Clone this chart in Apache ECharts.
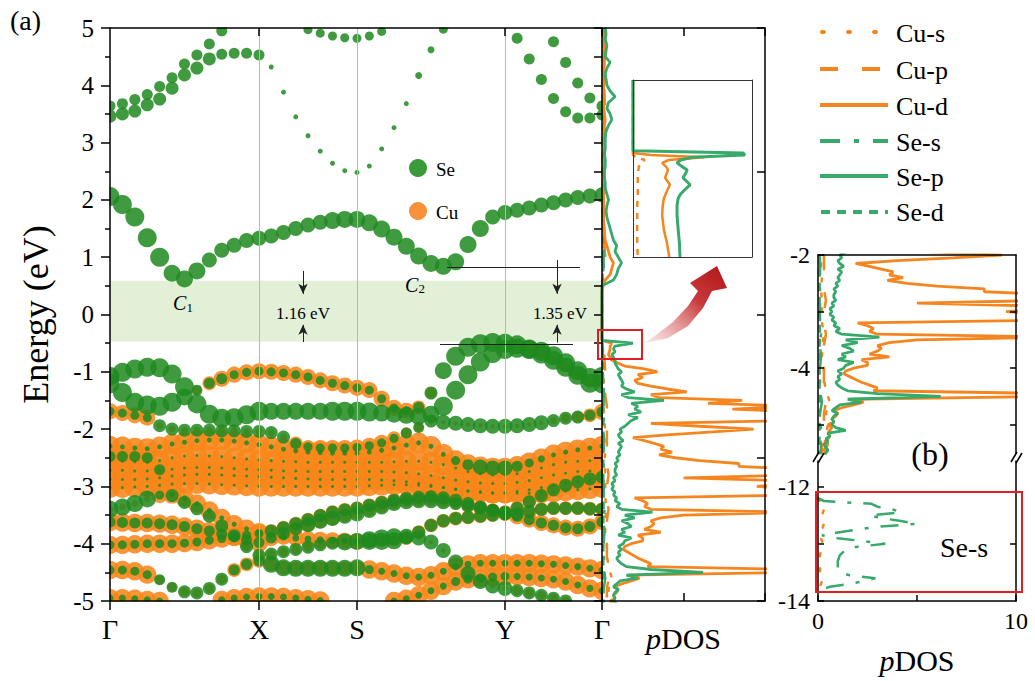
<!DOCTYPE html>
<html>
<head>
<meta charset="utf-8">
<title>Band structure and pDOS</title>
<script src="https://cdn.jsdelivr.net/npm/echarts@6/dist/echarts.min.js"></script>
<style>
html,body{margin:0;padding:0;background:#fff;}
#main{width:1035px;height:681px;}
</style>
</head>
<body>
<div id="main"></div>
<script>
// k path: node positions (path length units) and names
var kNodes = [0, 1.49, 2.47, 3.95, 4.92];
var kNames = ['Γ', 'X', 'S', 'Y', 'Γ'];
var kSteps = [12, 8, 12, 8]; // samples per segment -> 41 k points

// band energies (eV) at the 41 k points: Γ-X | X-S | S-Y | Y-Γ
var cb1 = [2.06,1.92,1.70,1.34,1.00,0.72,0.62,0.76,0.95,1.12,1.21,1.29,1.33, 1.37,1.43,1.50,1.56,1.61,1.64,1.66,1.66, 1.60,1.49,1.35,1.19,1.02,0.89,0.84,0.92,1.22,1.50,1.70,1.78, 1.82,1.86,1.91,1.95,2.00,2.04,2.07,2.09];
var cb2a = [3.64,3.68,3.75,3.84,3.98,4.13,4.37,4.53,4.72,4.95,null,null,null, null,null,5.02,4.97,4.91,4.86,4.83,4.82, 4.86,4.94,5.05,null,null,null,null,null,null,null,null,null, null,null,null,4.76,4.40,4.04,3.78,3.64];
var cb2b = [3.46,3.50,3.55,3.66,3.76,3.95,4.18,4.30,4.46,4.54,4.56,4.56,4.53, 4.32,3.88,3.45,3.12,2.85,2.64,2.51,2.48, 2.59,2.89,3.26,3.68,4.17,4.62,4.98,null,null,null,null,null, 4.82,4.46,4.10,3.77,3.54,3.43,3.43,3.48];
var v1 = [-1.08,-1.01,-0.95,-0.92,-0.93,-1.04,-1.26,-1.56,-1.74,-1.81,-1.80,-1.75,-1.69, -1.69,-1.69,-1.69,-1.69,-1.69,-1.69,-1.69,-1.69, -1.70,-1.72,-1.74,-1.76,-1.78,-1.74,-1.60,-1.32,-1.05,-0.83,-0.68,-0.61, -0.59,-0.60,-0.64,-0.72,-0.84,-0.98,-1.10,-1.08];
var v2 = [-1.21,-1.36,-1.53,-1.58,-1.60,-1.53,-1.44,-1.32,-1.20,-1.12,-1.05,-1.01,-0.99, -1.00,-1.02,-1.05,-1.09,-1.15,-1.20,-1.24,-1.28, -1.32,-1.47,-1.63,-1.68,-1.62,-1.37,-0.98,-0.73,-0.57,-0.51,-0.49,-0.50, -0.53,-0.61,-0.69,-0.80,-0.92,-1.06,-1.20,-1.21];
var v3 = [-1.69,-1.72,-1.76,-1.80,-1.94,-2.00,-2.02,-2.02,-2.02,-2.03,-2.03,-2.04,-2.04, -2.06,-2.14,-2.25,-2.31,-2.33,-2.33,-2.33,-2.32, -2.29,-2.24,-2.16,-2.07,-1.97,-1.86,-1.88,-1.90,-1.92,-1.94,-1.95,-1.95, -1.94,-1.92,-1.89,-1.85,-1.81,-1.79,-1.76,-1.70];
var v4 = [-2.30,-2.31,-2.33,-2.34,-2.31,-2.26,-2.23,-2.20,-2.19,-2.19,-2.21,-2.24,-2.27, -2.31,-2.35,-2.38,-2.40,-2.41,-2.42,-2.42,-2.42, -2.40,-2.37,-2.33,-2.28,-2.24,-2.30,-2.44,-2.55,-2.62,-2.66,-2.68,-2.68, -2.65,-2.59,-2.52,-2.45,-2.40,-2.36,-2.33,-2.30];
var v5 = [-2.48,-2.48,-2.48,-2.50,-2.71,-3.16,-3.28,-3.39,-3.52,-3.69,-3.86,-4.05,-4.20, -4.18,-4.14,-4.10,-4.06,-4.02,-3.99,-3.97,-3.96, -3.93,-3.90,-3.88,-3.87,-3.90,-3.97,-4.12,-4.32,-4.52,-4.66,-4.74,-4.78, -4.82,-4.86,-4.90,-4.95,-5.00,-5.05,-5.08,-5.10];
var v6 = [-4.46,-4.46,-4.48,-4.54,-4.63,-4.76,-4.84,-4.86,-4.78,-4.62,-4.46,-4.36,-4.30, -4.36,-4.42,-4.43,-4.43,-4.43,-4.43,-4.43,-4.42, -4.45,-4.48,-4.52,-4.56,-4.58,-4.55,-4.48,-4.40,-4.36,-4.34,-4.34,-4.34, -4.34,-4.34,-4.35,-4.36,-4.38,-4.40,-4.43,-4.46];
var v7 = [-3.62,-3.63,-3.64,-3.64,-3.65,-3.67,-3.70,-3.74,-3.78,-3.83,-3.88,-3.93,-3.98, -3.90,-3.82,-3.74,-3.67,-3.61,-3.56,-3.52,-3.48, -3.42,-3.36,-3.30,-3.27,-3.25,-3.25,-3.27,-3.30,-3.34,-3.38,-3.42,-3.45, -3.52,-3.58,-3.64,-3.68,-3.72,-3.74,-3.70,-3.62];
var v8 = [-4.02,-4.02,-4.01,-4.00,-4.00,-4.00,-3.99,-3.97,-3.94,-3.91,-3.88,-3.85,-3.82, -3.78,-3.72,-3.65,-3.58,-3.51,-3.45,-3.41,-3.38, -3.33,-3.28,-3.24,-3.21,-3.19,-3.18,-3.20,-3.24,-3.30,-3.36,-3.42,-3.47, -3.38,-3.27,-3.16,-3.06,-2.98,-2.92,-2.87,-2.84];
var v9 = [-3.40,-3.36,-3.30,-3.22,-3.15,-3.14,-3.20,-3.30,-3.42,-3.55,-3.66,-3.74,-3.80, -3.85,-3.88,-3.90,-3.92,-3.93,-3.94,-3.95,-3.96, -3.96,-3.96,-3.95,-3.90,-3.80,-3.68,-3.60,-3.56,-3.54,-3.52,-3.50,-3.48, -3.48,-3.44,-3.40,-3.38,-3.38,-3.38,-3.39,-3.40];
var v10 = [-4.95,-4.95,-4.96,-4.98,-5.00,-5.02,-5.05,-5.05,-5.02,-4.98,-4.95,-4.93,-4.92, -4.92,-4.93,-4.95,-4.97,-4.99,-5.01,-5.03,-5.05, -5.05,-5.03,-5.00,-4.96,-4.90,-4.82,-4.74,-4.66,-4.62,-4.60,-4.58,-4.57, -4.57,-4.58,-4.60,-4.62,-4.66,-4.72,-4.78,-4.82];
var b1 = [-2.55,-2.56,-2.57,-2.58,-2.55,-2.50,-2.47,-2.46,-2.47,-2.48,-2.50,-2.52,-2.54, -2.55,-2.56,-2.57,-2.58,-2.58,-2.58,-2.58,-2.58, -2.58,-2.58,-2.57,-2.56,-2.56,-2.58,-2.62,-2.68,-2.74,-2.78,-2.80,-2.80, -2.78,-2.74,-2.68,-2.62,-2.58,-2.56,-2.55,-2.55];
var b2 = [-2.72,-2.72,-2.73,-2.73,-2.72,-2.70,-2.68,-2.67,-2.67,-2.68,-2.69,-2.70,-2.71, -2.72,-2.73,-2.73,-2.74,-2.74,-2.74,-2.74,-2.74, -2.74,-2.74,-2.75,-2.76,-2.78,-2.81,-2.85,-2.89,-2.92,-2.94,-2.95,-2.95, -2.93,-2.90,-2.85,-2.80,-2.77,-2.74,-2.73,-2.72];
var b3 = [-2.88,-2.88,-2.88,-2.87,-2.85,-2.82,-2.80,-2.79,-2.79,-2.80,-2.81,-2.82,-2.83, -2.84,-2.85,-2.86,-2.87,-2.88,-2.88,-2.88,-2.88, -2.88,-2.89,-2.90,-2.92,-2.95,-2.98,-3.02,-3.05,-3.08,-3.10,-3.11,-3.11, -3.09,-3.06,-3.02,-2.98,-2.94,-2.91,-2.89,-2.88];
var b4 = [-3.02,-3.02,-3.01,-3.00,-2.98,-2.96,-2.95,-2.95,-2.96,-2.97,-2.98,-2.99,-3.00, -3.00,-3.00,-3.00,-3.00,-3.00,-3.00,-3.00,-3.00, -2.99,-2.98,-2.97,-2.97,-2.98,-3.00,-3.02,-3.05,-3.08,-3.10,-3.12,-3.12, -3.12,-3.12,-3.11,-3.10,-3.08,-3.06,-3.04,-3.02];

// projected weights (0-9) per k point, Se and Cu
var seCb1 = '9999988877777 77777888 888888888877 77777777';
var seCb2a = '5555555555555 44444444 444444444444 55555555';
var seCb2b = '6666666665555 22222222 222233445555 55555555';
var seV1 = '9999999999999 88888999 988888999999 99999999';
var seV2 = '9999998555444 44444444 444456899999 99999999';
var cuV2 = '0000000467777 77777777 777765000000 33444444';
var seV3 = '4444666666666 66544444 444556777777 77766655';
var cuV3 = '7777333333333 33667777 776543222222 22234567';
var seV4 = '2222222222222 22222222 222222245777 54322222';
var cuV4 = '9999999999999 99999999 999999999999 99999999';
var seV5 = '5555566666666 66666688 888777777777 66666666';
var cuV5 = '8888333333444 44444444 222222222222 44444444';
var seV6 = '4444556666555 88888888 433333333333 33333333';
var cuV6 = '8888444444666 66666666 888888888888 88888888';
var seV7 = '5555555555555 56677777 777777766666 55555555';
var cuV7 = '8888888888888 77666655 555555556666 77777777';
var seV8 = '4444444444444 66666666 666666666666 66666666';
var cuV8 = '8888888888888 66666666 666666666666 66666666';
var seV9 = '8888422222222 33333333 888666666666 66666666';
var cuV9 = '3333788888888 77777777 555666666666 66666666';
var seV10 = '3333333333333 33333333 333333344444 33333333';
var cuV10 = '8888888888888 88888888 888888888888 88888888';
var seBlob = '1111111111111 11111111 111111111111 11111111';
var cuBlob = '9999999999999 99999999 999999999999 99999999';

// pDOS, valence part: from -5.6 eV in 0.05 eV steps up to -0.4 eV
var valStart = -5.6, valStep = 0.05;
var cuDv = [0.3,0.3,0.4,0.3,0.4,0.5,0.4,0.5,0.6,0.5,
    0.6,0.7,0.5,0.8,0.7,0.9,1.0,0.8,1.2,1.8,
    2.3,1.6,12,12,2.8,3.0,2.6,2.2,1.9,1.6,
    1.3,1.4,1.8,2.5,2.5,2.2,3.6,2.6,3.0,3.2,
    3.0,3.6,5.0,12,3.0,2.6,2.8,2.5,2.0,12,
    11,12,9.5,12,11,5.0,12,11,12,8.4,
    8.4,6.0,4.5,3.5,4.3,3.6,3.8,3.2,2.6,1.9,
    4.0,6.8,9.3,6.0,3.0,12,11,12,12,8.0,
    12,6.5,8.6,3.5,3.0,5.2,4.0,3.0,2.2,2.0,
    2.5,2.2,3.4,2.6,1.4,1.0,0.6,0.5,0.4,0.45,
    0.5,0.5,0.6,0,0];
var sePv = [0.4,0.3,0.4,0.5,0.4,0.3,0.5,0.4,0.6,0.5,
    1.4,0.9,0.7,0.8,0.7,0.8,1.0,0.7,0.9,1.1,
    2.2,1.5,6.2,3.0,1.5,1.2,1.0,0.9,1.1,1.0,
    1.2,1.0,1.3,1.4,1.8,1.0,1.4,1.2,1.8,1.6,
    1.2,2.0,1.4,3.1,1.2,0.9,1.1,0.8,0.9,0.7,
    0.8,0.6,0.7,0.6,0.8,0.7,0.9,0.8,0.8,0.9,
    0.8,1.0,0.9,1.1,1.0,1.1,1.2,1.0,1.3,1.1,
    1.0,1.2,1.1,1.4,1.6,1.8,2.2,1.6,2.4,2.0,
    2.2,1.8,3.8,1.6,1.2,2.0,1.5,1.2,1.3,1.2,
    1.1,1.0,1.2,1.0,0.9,0.8,0.8,0.7,0.6,0.8,
    0.7,0.8,1.9,0,0];
// pDOS, gap and conduction part: from -0.4 eV in 0.1 eV steps
var conStart = -0.4, conStep = 0.1;
var cuDc = [0,0,0,0,0,0,0,0,0,0,
    0.2,0.5,0.6,0.7,0.5,0.4,0.3,0.2,0.15,0.15,
    0.1,0.1,0.1,0.1,0.1,0.1,0.1,0.1,0.1,0.1,
    0.1,0.1,0.1,0.1,0.1,0.1,0.1,0.15,0.2,0.15,
    0.1,0.1,0.15,0.1,0.1,0.1,0.1,0.1,0.1,0.1,
    0.1,0.15,0.1,0.1,0.1];
var sePc = [0,0,0,0,0,0,0,0,0,0,
    0.7,0.9,1.0,1.2,1.0,0.8,0.9,0.7,0.6,0.5,
    0.4,0.3,0.25,0.3,0.4,0.3,0.2,0.2,0.15,0.15,
    0.2,0.2,0.15,0.2,0.2,0.2,0.25,0.4,0.6,0.5,
    0.3,0.4,0.8,0.5,0.3,0.25,0.2,0.3,0.5,0.2,
    0.25,0.3,0.2,0.25,0.2];
// minor orbitals, from -5.6 eV in 0.2 eV steps
var minorStep = 0.2;
var cuS = [0.2,0.3,0.4,0.5,0.4,0.6,0.4,0.3,0.3,0.2, 0.2,0.3,0.2,0.2,0.2,0.15,0.2,0.15,0.2,0.1, 0.1,0.1,0.1,0.1,0.05,0.05,0,0,0,0, 0,0.05,0.05,0.05,0.05,0.05,0.05,0.05,0.05,0.05, 0.05,0.05,0.05,0.05,0.1,0.1,0.05,0.05,0.05,0.05, 0.05,0.1,0.05,0.05];
var cuP = [0.2,0.2,0.3,0.3,0.3,0.4,0.3,0.3,0.3,0.4, 0.3,0.4,0.3,0.3,0.4,0.3,0.3,0.3,0.3,0.3, 0.3,0.2,0.2,0.2,0.15,0.15,0,0,0,0, 0,0.15,0.2,0.2,0.15,0.15,0.1,0.1,0.1,0.1, 0.1,0.1,0.1,0.15,0.25,0.3,0.2,0.15,0.15,0.15, 0.15,0.25,0.2,0.15];
var seS = [0.1,0.15,0.1,0.15,0.1,0.2,0.1,0.1,0.1,0.15, 0.1,0.15,0.1,0.1,0.1,0.1,0.1,0.1,0.1,0.1, 0.1,0.1,0.1,0.05,0.05,0.05,0,0,0,0, 0,0.05,0.1,0.1,0.1,0.1,0.05,0.05,0.1,0.05, 0.05,0.05,0.05,0.05,0.05,0.15,0.1,0.1,0.05,0.05, 0.05,0.05,0.05,0.05];
var seD = [0.05,0.05,0.08,0.08,0.1,0.1,0.08,0.08,0.08,0.1, 0.08,0.1,0.08,0.08,0.08,0.08,0.08,0.1,0.08,0.08, 0.08,0.08,0.08,0.05,0.05,0.05,0,0,0,0, 0,0.05,0.08,0.08,0.08,0.05,0.05,0.05,0.05,0.05, 0.05,0.05,0.05,0.05,0.05,0.08,0.05,0.05,0.08,0.05, 0.05,0.05,0.05,0.05];

// deep Se-s states for panel (b)
var lowE = [-12.20,-12.25,-12.30,-12.35,-12.40,-12.45,-12.50,-12.55,-12.60,-12.65,-12.70,-12.75,-12.80,-12.85,-12.90,-12.95,-13.00,-13.05,-13.10,-13.20,-13.30,-13.40,-13.50,-13.55,-13.60,-13.65,-13.70,-13.75,-13.80,-13.85];
var seSLow = [0,0.3,2.7,3.0,3.8,4.2,2.6,3.2,4.2,5.0,3.0,2.0,1.0,0.2,1.0,2.2,3.4,2.0,1.4,1.1,1.0,1.0,1.1,1.6,2.9,2.4,1.6,0.6,0.2,0];
var cuSLow = [0,0.1,0.25,0.2,0.3,0.25,0.2,0.25,0.3,0.3,0.25,0.2,0.15,0.1,0.15,0.2,0.25,0.2,0.15,0.1,0.1,0.1,0.1,0.15,0.25,0.2,0.15,0.1,0.05,0];

// inset: zoom on the valence band top
var insetE = [-0.400,-0.500,-0.503,-0.506,-0.509,-0.513,-0.517,-0.522,-0.527,-0.533,-0.538,-0.543,-0.548,-0.555,-0.561,-0.567,-0.577,-0.591,-0.612,-0.630,-0.650];
var insSeP = [0,0,1.85,1.88,1.0,0.80,0.74,0.82,0.91,0.88,0.84,0.90,0.96,0.87,0.80,0.76,0.74,0.74,0.76,0.78,0.79];
var insCuD = [0,0,0,0.3,1.2,0.6,0.49,0.55,0.59,0.56,0.54,0.58,0.62,0.58,0.55,0.52,0.50,0.49,0.52,0.57,0.61];
var insCuP = [0,0,0,0,0.05,0.2,0.12,0.10,0.09,0.09,0.08,0.08,0.08,0.08,0.08,0.08,0.07,0.07,0.07,0.07,0.08];

// gap shading and gap annotations (eV)
var gapTop = 0.59, gapBottom = -0.47;
var c2Level = 0.83, vbmLevel = -0.52;

var serif = "'Times New Roman','Liberation Serif',serif";
var bandGreen = '#1f8a1f', bandOrange = '#f8861a';
var dosGreen = '#36a96b', dosOrange = '#f5861f';

function weights(s){
    return s.replace(/\s/g, '').split('').map(Number);
}

// k grid
var kGrid = [];
for (var s = 0; s < kSteps.length; s++) {
    for (var j = (s === 0 ? 0 : 1); j <= kSteps[s]; j++) {
        kGrid.push(kNodes[s] + (kNodes[s + 1] - kNodes[s]) * j / kSteps[s]);
    }
}

var bandSet = [
    [cb1, seCb1, null], [cb2a, seCb2a, null], [cb2b, seCb2b, null],
    [v1, seV1, null], [v2, seV2, cuV2], [v3, seV3, cuV3], [v4, seV4, cuV4],
    [b1, seBlob, cuBlob], [b2, seBlob, cuBlob], [b3, seBlob, cuBlob], [b4, seBlob, cuBlob],
    [v5, seV5, cuV5], [v6, seV6, cuV6], [v7, seV7, cuV7], [v8, seV8, cuV8],
    [v9, seV9, cuV9], [v10, seV10, cuV10]
];

var sePts = [], cuPts = [];
bandSet.forEach(function(b){
    var se = weights(b[1]);
    var cu = b[2] ? weights(b[2]) : null;
    for (var i = 0; i < kGrid.length; i++) {
        if (b[0][i] == null) continue;
        if (cu && cu[i] > 0) cuPts.push([kGrid[i], b[0][i], cu[i]]);
        if (se[i] > 0) sePts.push([kGrid[i], b[0][i], se[i]]);
    }
});

function gridE(start, step, n){
    var arr = [];
    for (var i = 0; i < n; i++) arr.push(+(start + step * i).toFixed(3));
    return arr;
}
function pairs(eArr, vArr){
    return vArr.map(function(v, i){ return [v, eArr[i]]; });
}
var valE = gridE(valStart, valStep, cuDv.length);
var conE = gridE(conStart, conStep, cuDc.length);
var minorE = gridE(valStart, minorStep, cuS.length);
var cuDPairs = pairs(valE, cuDv).concat(pairs(conE, cuDc));
var sePPairs = pairs(valE, sePv).concat(pairs(conE, sePc));

function dosLine(xi, yi, data, color, type, width, cap){
    return {
        type: 'line', xAxisIndex: xi, yAxisIndex: yi, silent: true,
        data: data, symbol: 'none', z: 6,
        lineStyle: {color: color, width: width || 2.5, type: type || 'solid', cap: cap || 'butt'}
    };
}
var dotT = [3, 12], dashT = [16, 22], dashDotT = [18, 12, 4, 12], shortDashT = [8, 6];

function dosSet(xi, yi){
    return [
        dosLine(xi, yi, pairs(minorE, cuS), dosOrange, dotT, 2.5, 'round'),
        dosLine(xi, yi, pairs(minorE, cuP), dosOrange, dashT),
        dosLine(xi, yi, pairs(minorE, seS), dosGreen, dashDotT),
        dosLine(xi, yi, pairs(minorE, seD), dosGreen, shortDashT),
        dosLine(xi, yi, cuDPairs, dosOrange, 'solid', 2.8),
        dosLine(xi, yi, sePPairs, dosGreen, 'solid', 2.8)
    ];
}

var axisLineStyle = {color: '#000', width: 1.5};
function plainAxis(extra){
    var a = {
        type: 'value', z: 7,
        axisLine: {show: true, onZero: false, lineStyle: axisLineStyle},
        axisTick: {show: false},
        axisLabel: {show: false},
        splitLine: {show: false}
    };
    for (var key in extra) a[key] = extra[key];
    return a;
}
var tickStyle = {color: '#000', width: 1.5};
var pdosName = {fontSize: 30, fontFamily: serif, color: '#000',
    rich: {i: {fontStyle: 'italic', fontSize: 30, fontFamily: serif, color: '#000'}}};
var subRich = {c: {fontStyle: 'italic', fontSize: 20, fontFamily: serif, color: '#000'},
    s: {fontSize: 13, fontFamily: serif, color: '#000', verticalAlign: 'bottom', padding: [8, 0, 0, 0]}};

// white masks so the fat-band dots stop at the band panel frame
function mask(x, y, w, h){
    return {type: 'rect', z: 4, silent: true, shape: {x: x, y: y, width: w, height: h}, style: {fill: '#fff'}};
}

var option = {
    animation: false,
    backgroundColor: '#fff',
    grid: [
        {left: 110, top: 28, width: 492, height: 573},
        {left: 602, top: 28, width: 163, height: 573},
        {left: 633, top: 80, width: 119, height: 177},
        {left: 818, top: 255, width: 198, height: 198},
        {left: 818, top: 461, width: 198, height: 140}
    ],
    xAxis: [
        plainAxis({gridIndex: 0, min: 0, max: kNodes[4], position: 'bottom',
            axisTick: {show: true, length: 9, customValues: kNodes, lineStyle: tickStyle},
            axisLabel: {show: true, customValues: kNodes, margin: 14, color: '#000',
                fontSize: 28, fontFamily: serif, showMinLabel: true, showMaxLabel: true,
                formatter: function(v){
                    for (var i = 0; i < kNodes.length; i++) if (Math.abs(v - kNodes[i]) < 1e-6) return kNames[i];
                    return '';
                }}}),
        plainAxis({gridIndex: 0, min: 0, max: kNodes[4], position: 'top',
            axisTick: {show: true, inside: true, length: 8, customValues: [kNodes[1], kNodes[3]], lineStyle: tickStyle}}),
        plainAxis({gridIndex: 1, min: 0, max: 10, interval: 5, position: 'bottom',
            axisTick: {show: true, inside: true, length: 8, lineStyle: tickStyle},
            name: '{i|p}DOS', nameLocation: 'middle', nameGap: 22, nameTextStyle: pdosName}),
        plainAxis({gridIndex: 1, min: 0, max: 10, interval: 5, position: 'top',
            axisTick: {show: true, inside: true, length: 8, lineStyle: tickStyle}}),
        plainAxis({gridIndex: 2, min: 0, max: 2, position: 'bottom', axisLine: {show: true, onZero: false, lineStyle: {color: '#333', width: 1}}}),
        plainAxis({gridIndex: 2, min: 0, max: 2, position: 'top', axisLine: {show: true, onZero: false, lineStyle: {color: '#333', width: 1}}}),
        plainAxis({gridIndex: 3, min: 0, max: 10, position: 'top'}),
        plainAxis({gridIndex: 4, min: 0, max: 10, position: 'bottom',
            axisTick: {show: true, inside: true, length: 6, customValues: [0, 5, 10], lineStyle: tickStyle},
            axisLabel: {show: true, customValues: [0, 10], margin: 8, color: '#000', fontSize: 24, fontFamily: serif},
            name: '{i|p}DOS', nameLocation: 'middle', nameGap: 44, nameTextStyle: pdosName})
    ],
    yAxis: [
        plainAxis({gridIndex: 0, min: -5, max: 5, interval: 1, position: 'left',
            axisTick: {show: true, length: 9, lineStyle: tickStyle},
            minorTick: {show: true, splitNumber: 2, length: 5, lineStyle: tickStyle},
            axisLabel: {show: true, margin: 16, color: '#000', fontSize: 25, fontFamily: serif},
            name: 'Energy (eV)', nameLocation: 'middle', nameRotate: 90, nameGap: 56,
            nameTextStyle: {fontSize: 36, fontFamily: serif, color: '#000'}}),
        plainAxis({gridIndex: 0, min: -5, max: 5, interval: 0.5, position: 'right',
            axisTick: {show: true, inside: true, length: 8, lineStyle: tickStyle}}),
        plainAxis({gridIndex: 1, min: -5, max: 5, position: 'left', axisLine: {show: false}}),
        plainAxis({gridIndex: 1, min: -5, max: 5, interval: 2.5, position: 'right',
            axisTick: {show: true, inside: true, length: 8, lineStyle: tickStyle}}),
        plainAxis({gridIndex: 2, min: -0.65, max: -0.40, position: 'left', axisLine: {show: true, onZero: false, lineStyle: {color: '#333', width: 1}}}),
        plainAxis({gridIndex: 2, min: -0.65, max: -0.40, position: 'right', axisLine: {show: true, onZero: false, lineStyle: {color: '#333', width: 1}}}),
        plainAxis({gridIndex: 3, min: -5.5, max: -2, position: 'left',
            axisTick: {show: true, inside: true, length: 6, customValues: [-5, -4, -3, -2], lineStyle: tickStyle},
            axisLabel: {show: true, customValues: [-4, -2], margin: 8, color: '#000', fontSize: 24, fontFamily: serif}}),
        plainAxis({gridIndex: 3, min: -5.5, max: -2, position: 'right',
            axisTick: {show: true, inside: true, length: 6, customValues: [-5, -4, -3], lineStyle: tickStyle}}),
        plainAxis({gridIndex: 4, min: -14, max: -11.55, position: 'left',
            axisTick: {show: true, inside: true, length: 6, customValues: [-14, -13, -12], lineStyle: tickStyle},
            axisLabel: {show: true, customValues: [-14, -12], margin: 8, color: '#000', fontSize: 24, fontFamily: serif}}),
        plainAxis({gridIndex: 4, min: -14, max: -11.55, position: 'right',
            axisTick: {show: true, inside: true, length: 6, customValues: [-13], lineStyle: tickStyle}})
    ],
    series: [
        // gap shade and high-symmetry lines
        {type: 'line', xAxisIndex: 0, yAxisIndex: 0, data: [[0, -10]], symbol: 'none', silent: true, z: 1,
            lineStyle: {opacity: 0},
            markArea: {silent: true, itemStyle: {color: '#e2f0d8'},
                data: [[{xAxis: 0, yAxis: gapBottom}, {xAxis: kNodes[4], yAxis: gapTop}]]},
            markLine: {silent: true, symbol: 'none', label: {show: false},
                lineStyle: {color: '#b8b8b8', width: 1, type: 'solid'},
                data: [{xAxis: kNodes[1]}, {xAxis: kNodes[2]}, {xAxis: kNodes[3]}]}},
        {type: 'scatter', xAxisIndex: 0, yAxisIndex: 0, data: cuPts, silent: true, z: 2,
            symbolSize: function(v){ return v[2] * 2.3; },
            itemStyle: {color: bandOrange, opacity: 0.88}},
        {type: 'scatter', xAxisIndex: 0, yAxisIndex: 0, data: sePts, silent: true, z: 3,
            symbolSize: function(v){ return 1 + v[2] * 2; },
            itemStyle: {color: bandGreen, opacity: 0.85}},
        // gap annotations
        {type: 'line', xAxisIndex: 0, yAxisIndex: 0, data: [[0, -10]], symbol: 'none', silent: true, z: 5,
            lineStyle: {opacity: 0},
            markLine: {silent: true, symbol: 'none', label: {show: false}, animation: false,
                lineStyle: {color: '#222', width: 1, type: 'solid'},
                data: [
                    [{coord: [3.37, c2Level]}, {coord: [4.70, c2Level]}],
                    [{coord: [3.30, vbmLevel]}, {coord: [4.63, vbmLevel]}],
                    [{coord: [1.93, 0.76], symbol: 'none'}, {coord: [1.93, 0.36], symbol: 'arrow', symbolSize: [7, 10]}],
                    [{coord: [1.93, -0.48], symbol: 'none'}, {coord: [1.93, -0.18], symbol: 'arrow', symbolSize: [7, 10]}],
                    [{coord: [4.47, 0.95], symbol: 'none'}, {coord: [4.47, 0.36], symbol: 'arrow', symbolSize: [7, 10]}],
                    [{coord: [4.47, -0.49], symbol: 'none'}, {coord: [4.47, -0.18], symbol: 'arrow', symbolSize: [7, 10]}]
                ]},
            markPoint: {silent: true, symbol: 'circle', symbolSize: 0,
                label: {show: true, position: 'inside', color: '#000', fontFamily: serif, fontSize: 17},
                data: [
                    {coord: [1.93, 0.01], label: {formatter: '1.16 eV'}},
                    {coord: [4.50, 0.01], label: {formatter: '1.35 eV'}},
                    {coord: [0.73, 0.20], label: {formatter: '{c|C}{s|1}', rich: subRich}},
                    {coord: [3.05, 0.52], label: {formatter: '{c|C}{s|2}', rich: subRich}}
                ]}}
    ].concat(dosSet(2, 2)).concat(dosSet(6, 6)).concat([
        dosLine(7, 8, pairs(lowE, cuSLow), dosOrange, dotT, 2.5, 'round'),
        dosLine(7, 8, pairs(lowE, seSLow), dosGreen, dashDotT),
        dosLine(4, 4, pairs(insetE, insCuP), dosOrange, [6, 6]),
        dosLine(4, 4, pairs(insetE, insCuD), dosOrange),
        dosLine(4, 4, pairs(insetE, insSeP), dosGreen, 'solid', 3)
    ]),
    graphic: [
        mask(603, 29, 161, 571),
        mask(88, 28, 21.5, 574),
        mask(95, 8, 508, 19.5),
        mask(95, 601.5, 508, 14),
        {type: 'text', x: 10, y: 20, z: 10, style: {text: '(a)', font: '28px ' + serif, fill: '#000', textVerticalAlign: 'middle'}},
        {type: 'circle', z: 10, shape: {cx: 418, cy: 168, r: 9}, style: {fill: '#3a9a3a'}},
        {type: 'circle', z: 10, shape: {cx: 418, cy: 211, r: 9}, style: {fill: '#f7923a'}},
        {type: 'text', x: 436, y: 169, z: 10, style: {text: 'Se', font: '19px ' + serif, fill: '#000', textVerticalAlign: 'middle'}},
        {type: 'text', x: 436, y: 212, z: 10, style: {text: 'Cu', font: '19px ' + serif, fill: '#000', textVerticalAlign: 'middle'}},
        // zoom box and arrow to inset
        {type: 'rect', z: 10, shape: {x: 598, y: 330, width: 44, height: 29}, style: {fill: 'none', stroke: '#e02020', lineWidth: 2}},
        {type: 'polygon', z: 10,
            shape: {points: [[645, 343], [668, 338], [688, 326], [703, 308], [712, 291], [727, 288], [717, 266], [690, 283], [698, 291], [688, 306], [673, 322], [656, 335]]},
            style: {fill: new echarts.graphic.LinearGradient(0, 1, 1, 0, [
                {offset: 0, color: 'rgba(225,120,120,0.15)'},
                {offset: 0.6, color: '#c8383a'},
                {offset: 1, color: '#b0161a'}])}},
        // legend
        {type: 'line', z: 10, shape: {x1: 822, y1: 32, x2: 888, y2: 32}, style: {stroke: dosOrange, lineWidth: 4, lineDash: [2, 24], lineCap: 'round'}},
        {type: 'line', z: 10, shape: {x1: 820, y1: 69, x2: 888, y2: 69}, style: {stroke: dosOrange, lineWidth: 4, lineDash: [18, 24]}},
        {type: 'line', z: 10, shape: {x1: 820, y1: 105, x2: 888, y2: 105}, style: {stroke: dosOrange, lineWidth: 4}},
        {type: 'line', z: 10, shape: {x1: 820, y1: 141, x2: 888, y2: 141}, style: {stroke: dosGreen, lineWidth: 4, lineDash: [20, 14, 5, 14]}},
        {type: 'line', z: 10, shape: {x1: 820, y1: 176, x2: 888, y2: 176}, style: {stroke: dosGreen, lineWidth: 4}},
        {type: 'line', z: 10, shape: {x1: 821, y1: 212, x2: 888, y2: 212}, style: {stroke: dosGreen, lineWidth: 4, lineDash: [9, 7]}},
        {type: 'text', x: 896, y: 33, z: 10, style: {text: 'Cu-s', font: '26px ' + serif, fill: '#000', textVerticalAlign: 'middle'}},
        {type: 'text', x: 896, y: 70, z: 10, style: {text: 'Cu-p', font: '26px ' + serif, fill: '#000', textVerticalAlign: 'middle'}},
        {type: 'text', x: 896, y: 106, z: 10, style: {text: 'Cu-d', font: '26px ' + serif, fill: '#000', textVerticalAlign: 'middle'}},
        {type: 'text', x: 896, y: 142, z: 10, style: {text: 'Se-s', font: '26px ' + serif, fill: '#000', textVerticalAlign: 'middle'}},
        {type: 'text', x: 896, y: 177, z: 10, style: {text: 'Se-p', font: '26px ' + serif, fill: '#000', textVerticalAlign: 'middle'}},
        {type: 'text', x: 896, y: 212, z: 10, style: {text: 'Se-d', font: '26px ' + serif, fill: '#000', textVerticalAlign: 'middle'}},
        // panel (b) decorations
        {type: 'text', x: 930, y: 454, z: 10, style: {text: '(b)', font: '32px ' + serif, fill: '#000', textAlign: 'center', textVerticalAlign: 'middle'}},
        {type: 'rect', z: 10, shape: {x: 816, y: 492, width: 206, height: 100}, style: {fill: 'none', stroke: '#e02020', lineWidth: 2}},
        {type: 'text', x: 964, y: 547, z: 10, style: {text: 'Se-s', font: '28px ' + serif, fill: '#000', textAlign: 'center', textVerticalAlign: 'middle'}},
        {type: 'line', z: 10, shape: {x1: 813, y1: 462, x2: 819, y2: 452}, style: {stroke: '#000', lineWidth: 1.5}},
        {type: 'line', z: 10, shape: {x1: 818, y1: 463, x2: 824, y2: 453}, style: {stroke: '#000', lineWidth: 1.5}},
        {type: 'line', z: 10, shape: {x1: 1011, y1: 462, x2: 1017, y2: 452}, style: {stroke: '#000', lineWidth: 1.5}},
        {type: 'line', z: 10, shape: {x1: 1016, y1: 463, x2: 1022, y2: 453}, style: {stroke: '#000', lineWidth: 1.5}}
    ]
};

var chart = echarts.init(document.getElementById('main'), null, {renderer: 'svg'});
chart.setOption(option);
</script>
</body>
</html>
